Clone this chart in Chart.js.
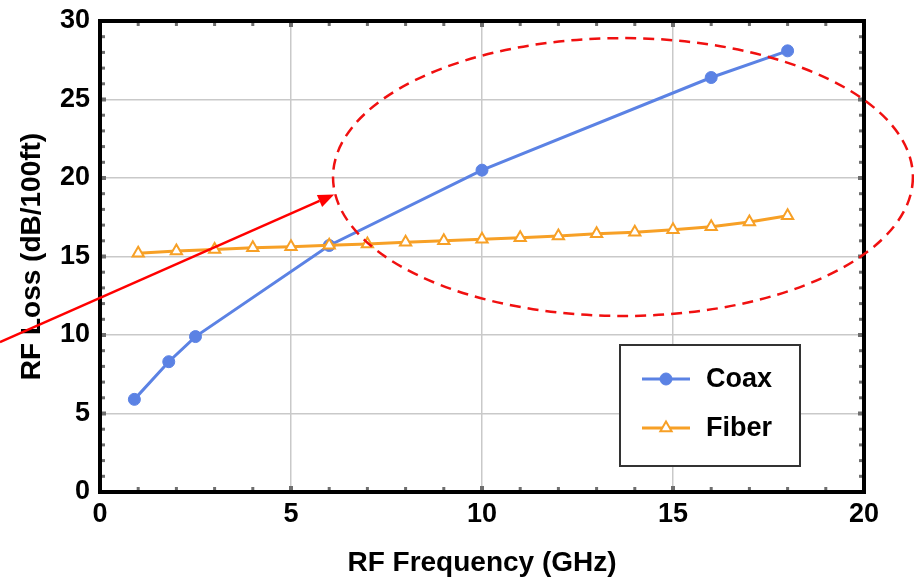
<!DOCTYPE html>
<html>
<head>
<meta charset="utf-8">
<script src="https://cdn.jsdelivr.net/npm/chart.js@4.4.1/dist/chart.umd.min.js"></script>
<style>
  html, body { margin: 0; padding: 0; background: #fff; }
  #wrap { width: 914px; height: 580px; }
</style>
</head>
<body>
<div id="wrap"><canvas id="lossChart"></canvas></div>
<script>
// values
var coaxFreq = [0.9, 1.8, 2.5, 6, 10, 16, 18];
var coaxLoss = [5.9, 8.3, 9.9, 15.7, 20.5, 26.4, 28.1];

var fiberFreq = [1, 2, 3, 4, 5, 6, 7, 8, 9, 10, 11, 12, 13, 14, 15, 16, 17, 18];
var fiberLoss = [15.2, 15.35, 15.45, 15.55, 15.62, 15.72, 15.8, 15.9, 16.0, 16.1, 16.2, 16.3, 16.45, 16.55, 16.7, 16.9, 17.2, 17.6];

var xTicks = [0, 5, 10, 15, 20];
var yTicks = [0, 5, 10, 15, 20, 25, 30];

// highlight ellipse + arrow, in data units
var ellipseCenter = [13.69, 20.06];
var ellipseRadius = [7.59, 8.85];
var arrowFrom = [-2.62, 9.55];
var arrowTo = [6.13, 18.95];

var FONT = "'Liberation Sans', Arial, sans-serif";
var COAX = '#5b82e4';
var FIBER = '#f7a026';

function toXY(arr, vals) {
    return arr.map(function (x, i) { return { x: x, y: vals[i] }; });
}

// border, small ticks along the frame
var framePlugin = {
    id: 'frame',
    afterDraw: function (chart) {
        var ctx = chart.ctx;
        var a = chart.chartArea;
        var sx = chart.scales.x, sy = chart.scales.y;
        ctx.save();
        ctx.fillStyle = '#6e6e6e';
        for (var i = 0; i <= 20; i++) {
            var px = sx.getPixelForValue(i);
            var s = (i % 5 === 0) ? 4 : 3;
            ctx.fillRect(px - s / 2, a.bottom - 2 - s, s, s);
            ctx.fillRect(px - s / 2, a.top + 2, s, s);
        }
        for (var j = 0; j <= 30; j++) {
            var py = sy.getPixelForValue(j);
            var t = (j % 5 === 0) ? 4 : 3;
            ctx.fillRect(a.left + 2, py - t / 2, t, t);
            ctx.fillRect(a.right - 2 - t, py - t / 2, t, t);
        }
        ctx.strokeStyle = '#000';
        ctx.lineWidth = 4;
        ctx.strokeRect(a.left, a.top, a.right - a.left, a.bottom - a.top);
        ctx.restore();
    }
};

var legendPlugin = {
    id: 'boxLegend',
    afterDraw: function (chart) {
        var ctx = chart.ctx;
        var bx = 620, by = 345, bw = 180, bh = 121;
        ctx.save();
        ctx.fillStyle = '#fff';
        ctx.fillRect(bx, by, bw, bh);
        ctx.strokeStyle = '#333';
        ctx.lineWidth = 2;
        ctx.strokeRect(bx, by, bw, bh);
        chart.data.datasets.forEach(function (ds, k) {
            var y = by + 34 + k * 49;
            ctx.strokeStyle = ds.borderColor;
            ctx.lineWidth = 3;
            ctx.beginPath();
            ctx.moveTo(bx + 22, y);
            ctx.lineTo(bx + 70, y);
            ctx.stroke();
            ctx.fillStyle = ds.pointBackgroundColor;
            ctx.strokeStyle = ds.pointBorderColor;
            ctx.lineWidth = ds.pointBorderWidth;
            Chart.helpers.drawPoint(ctx, {
                pointStyle: ds.pointStyle,
                radius: ds.pointRadius,
                rotation: 0,
                borderWidth: ds.pointBorderWidth
            }, bx + 46, y);
            ctx.fillStyle = '#000';
            ctx.font = 'bold 27px ' + FONT;
            ctx.textAlign = 'left';
            ctx.textBaseline = 'middle';
            ctx.fillText(ds.label, bx + 86, y + 1);
        });
        ctx.restore();
    }
};

var notePlugin = {
    id: 'note',
    afterDraw: function (chart) {
        var ctx = chart.ctx;
        var sx = chart.scales.x, sy = chart.scales.y;
        var cx = sx.getPixelForValue(ellipseCenter[0]);
        var cy = sy.getPixelForValue(ellipseCenter[1]);
        var rx = sx.getPixelForValue(ellipseCenter[0] + ellipseRadius[0]) - cx;
        var ry = cy - sy.getPixelForValue(ellipseCenter[1] + ellipseRadius[1]);
        ctx.save();
        ctx.strokeStyle = '#f01010';
        ctx.lineWidth = 2.5;
        ctx.setLineDash([11, 7]);
        ctx.beginPath();
        ctx.ellipse(cx, cy, rx, ry, 0, 0, Math.PI * 2);
        ctx.stroke();
        ctx.setLineDash([]);

        var x0 = sx.getPixelForValue(arrowFrom[0]), y0 = sy.getPixelForValue(arrowFrom[1]);
        var x1 = sx.getPixelForValue(arrowTo[0]), y1 = sy.getPixelForValue(arrowTo[1]);
        var ang = Math.atan2(y1 - y0, x1 - x0);
        var len = 16, half = 6.5;
        ctx.strokeStyle = '#f00';
        ctx.fillStyle = '#f00';
        ctx.lineWidth = 2.5;
        ctx.beginPath();
        ctx.moveTo(x0, y0);
        ctx.lineTo(x1 - len * Math.cos(ang), y1 - len * Math.sin(ang));
        ctx.stroke();
        ctx.beginPath();
        ctx.moveTo(x1, y1);
        ctx.lineTo(x1 - len * Math.cos(ang) + half * Math.sin(ang), y1 - len * Math.sin(ang) - half * Math.cos(ang));
        ctx.lineTo(x1 - len * Math.cos(ang) - half * Math.sin(ang), y1 - len * Math.sin(ang) + half * Math.cos(ang));
        ctx.closePath();
        ctx.fill();
        ctx.restore();
    }
};

var ctx = document.getElementById('lossChart').getContext('2d');

var lossChart = new Chart(ctx, {
    type: 'line',
    data: {
        datasets: [
            {
                label: 'Coax',
                data: toXY(coaxFreq, coaxLoss),
                borderColor: COAX,
                backgroundColor: COAX,
                pointBackgroundColor: COAX,
                pointBorderColor: COAX,
                pointBorderWidth: 1,
                pointStyle: 'circle',
                pointRadius: 6,
                borderWidth: 3,
                tension: 0,
                order: 1
            },
            {
                label: 'Fiber',
                data: toXY(fiberFreq, fiberLoss),
                borderColor: FIBER,
                backgroundColor: '#fff',
                pointBackgroundColor: '#fff',
                pointBorderColor: FIBER,
                pointBorderWidth: 2,
                pointStyle: 'triangle',
                pointRadius: 6.5,
                borderWidth: 3,
                tension: 0,
                order: 0
            }
        ]
    },
    options: {
        responsive: true,
        maintainAspectRatio: false,
        animation: false,
        layout: { padding: { top: 21, right: 50, left: 0, bottom: 0 } },
        plugins: {
            legend: { display: false },
            tooltip: { enabled: false }
        },
        scales: {
            x: {
                type: 'linear',
                min: 0,
                max: 20,
                afterBuildTicks: function (s) { s.ticks = xTicks.map(function (v) { return { value: v }; }); },
                afterFit: function (s) { s.height = 88; s.paddingLeft = 0; s.paddingRight = 0; },
                grid: { color: '#c9c9c9', lineWidth: 1.5, drawTicks: false },
                border: { display: false },
                ticks: { color: '#000', padding: 6, font: { family: FONT, size: 27, weight: 'bold' } },
                title: {
                    display: true,
                    text: 'RF Frequency (GHz)',
                    color: '#000',
                    padding: { top: 0, bottom: 0 },
                    font: { family: FONT, size: 28, weight: 'bold' }
                }
            },
            y: {
                min: 0,
                max: 30,
                afterBuildTicks: function (s) { s.ticks = yTicks.map(function (v) { return { value: v }; }); },
                afterFit: function (s) { s.width = 100; s.paddingTop = 0; s.paddingBottom = 0; },
                grid: { color: '#c9c9c9', lineWidth: 1.5, drawTicks: false },
                border: { display: false },
                ticks: { color: '#000', padding: 10, font: { family: FONT, size: 27, weight: 'bold' } },
                title: {
                    display: true,
                    text: 'RF Loss (dB/100ft)',
                    color: '#000',
                    padding: { top: 15, bottom: 0 },
                    font: { family: FONT, size: 28, weight: 'bold' }
                }
            }
        }
    },
    plugins: [framePlugin, legendPlugin, notePlugin]
});
</script>
</body>
</html>
